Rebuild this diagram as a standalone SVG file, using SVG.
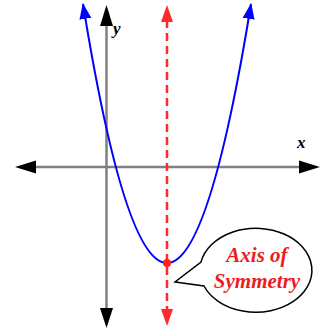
<svg xmlns="http://www.w3.org/2000/svg" width="321" height="332" viewBox="0 0 321 332">
<style>
.axis{stroke:#808080;stroke-width:2.5;fill:none}
.head{fill:#000}
.curve{stroke:#0000ff;stroke-width:2;fill:none}
.sym{stroke:#ff2a2a;stroke-width:2.5;stroke-dasharray:8 5;fill:none}
.lbl{font-family:"Liberation Serif",serif;font-style:italic;font-weight:bold;fill:#000}
.call{font-family:"Liberation Serif",serif;font-style:italic;font-weight:bold;fill:#ee1c1c;font-size:21px;text-anchor:middle}
</style>
<defs>
<marker id="bh" viewBox="0 0 16 12" refX="15" refY="6" markerUnits="userSpaceOnUse" markerWidth="16" markerHeight="12" orient="auto-start-reverse">
<path d="M0,0 L16,6 L0,12 Z" fill="#0000ff"/>
</marker>
</defs>
<g id="axes">
<line class="axis" x1="106.5" y1="22" x2="106.5" y2="312"/>
<line class="axis" x1="32" y1="167" x2="303" y2="167"/>
<polygon class="head" points="106.5,5 113,26 100,26"/>
<polygon class="head" points="106.5,328 113,308 100,308"/>
<polygon class="head" points="15,167 36,160.5 36,173.5"/>
<polygon class="head" points="320,167 299,160.5 299,173.5"/>
</g>
<g id="axis-labels">
<text class="lbl" x="113" y="34" font-size="17">y</text>
<text class="lbl" x="297" y="148" font-size="17">x</text>
</g>
<g id="parabola">
<path class="curve" d="M83,4 Q167,522 251,4" marker-start="url(#bh)" marker-end="url(#bh)"/>
</g>
<g id="axis-of-symmetry">
<line class="sym" x1="167" y1="20" x2="167" y2="312"/>
<polygon fill="#ff2a2a" points="167,5 173,22 161,22"/>
<polygon fill="#ff2a2a" points="167,326 173,309 161,309"/>
<circle cx="167" cy="263" r="4" fill="#ff2020"/>
</g>
<g id="callout">
<path d="M201,262 A56,42 0 1 1 204,286 L175,282 Z" fill="#fff" stroke="#000" stroke-width="1.5" stroke-linejoin="miter"/>
<text class="call" x="257" y="262">Axis of</text>
<text class="call" x="257" y="288">Symmetry</text>
</g>
</svg>
